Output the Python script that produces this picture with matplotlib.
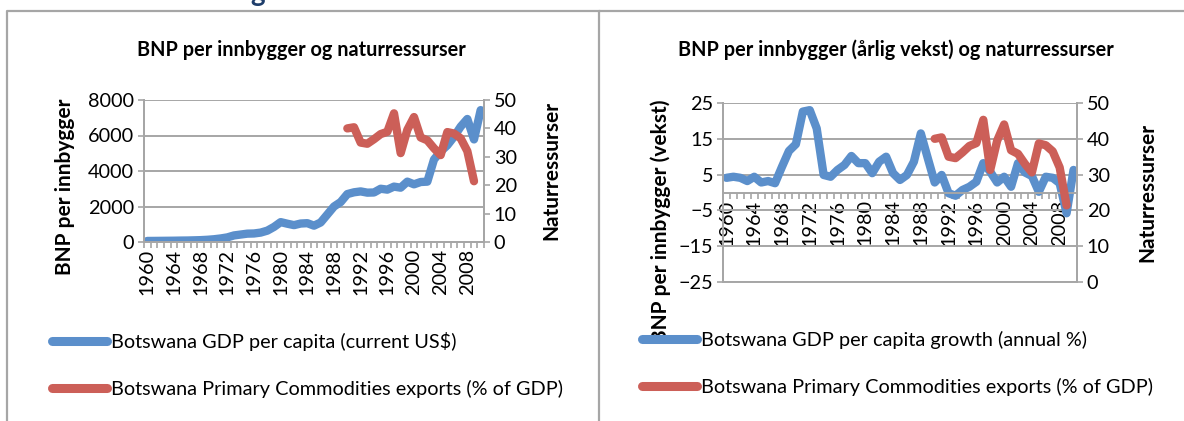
import numpy as np
import matplotlib
matplotlib.use('Agg')
import matplotlib.pyplot as plt
from matplotlib.lines import Line2D

plt.rcParams['font.family'] = ['Lato', 'DejaVu Sans']

# data
years = np.arange(1960, 2011)
gdp_pc = np.array([59, 61, 65, 69, 73, 80, 84, 94, 105, 125,
                   155, 200, 260, 370, 420, 470, 480, 530, 640, 850,
                   1120, 1030, 950, 1040, 1060, 920, 1100, 1550, 2000, 2250,
                   2700, 2800, 2850, 2780, 2790, 3000, 2950, 3120, 3060, 3400,
                   3250, 3380, 3400, 4650, 5100, 5450, 5930, 6500, 6930, 5780,
                   7430])
gdp_growth = np.array([4.1, 4.4, 4.1, 3.2, 4.4, 2.8, 3.2, 2.6, 7.2, 11.6,
                       13.5, 22.6, 23.0, 17.9, 4.9, 4.4, 6.3, 7.7, 10.2, 8.2,
                       8.2, 5.4, 8.6, 10.0, 5.4, 3.5, 4.9, 8.6, 16.5, 9.6,
                       2.8, 4.9, -0.2, -0.9, 0.7, 1.6, 3.0, 8.2, 5.8, 2.8,
                       4.4, 1.6, 8.2, 5.6, 4.6, 0.2, 4.4, 4.1, 2.6, -5.8,
                       6.3])
exp_years = np.arange(1990, 2010)
commod_exp = np.array([40.0, 40.4, 35.0, 34.6, 36.2, 38.0, 38.8, 45.3, 31.3, 39.5,
                       44.0, 36.8, 35.8, 33.0, 30.6, 38.7, 38.2, 36.5, 32.0, 21.4])

tick_years = np.arange(1960, 2009, 4)
tick_labels = [str(y) for y in tick_years]

lab_gdp = 'Botswana GDP per capita (current US$)'
lab_growth = 'Botswana GDP per capita growth (annual %)'
lab_exp = 'Botswana Primary Commodities exports (% of GDP)'

blue = '#5B8FCB'
red = '#CC5F58'
grey = '#A6A6A6'
W, H = 1184, 421
fs = 14.3

fig = plt.figure(figsize=(W/100, H/100), dpi=100)

def px(x0, y0, x1, y1):
    #pixel box (top-left origin) -> figure fractions
    return [x0/W, 1-y1/H, (x1-x0)/W, (y1-y0)/H]

def style(ax, ax2, ymin, ymax, ystep, rmax):
    ax.set_xlim(-0.5, len(years)-0.5)
    ax.set_xticks(tick_years-1960)
    ax.set_xticklabels(tick_labels, rotation=90, fontsize=fs)
    ax.set_xticks(np.arange(-0.5, len(years), 1), minor=True)
    ax.tick_params(axis='x', which='major', length=0, pad=5)
    ax.tick_params(axis='x', which='minor', length=4, width=1.2, color=grey, direction='out')
    ax.set_ylim(ymin, ymax)
    ax.set_yticks(np.arange(ymin, ymax+1, ystep))
    ax.tick_params(axis='y', length=4, width=1.2, color=grey, labelsize=fs, pad=3)
    ax.grid(axis='y', color=grey, lw=1.4)
    ax.set_axisbelow(True)
    ax2.set_ylim(0, rmax)
    ax2.set_yticks(np.arange(0, rmax+1, 10))
    ax2.tick_params(axis='y', length=4, width=1.2, color=grey, labelsize=fs, pad=3)
    for a in (ax, ax2):
        a.spines['top'].set_visible(False)
        for s in ('left', 'right', 'bottom'):
            a.spines[s].set_color(grey)
            a.spines[s].set_linewidth(1.4)
    ax.patch.set_visible(False)

# ---- left chart ----
ax1 = fig.add_axes(px(144, 100, 484, 242))
ax1b = ax1.twinx()
style(ax1, ax1b, 0, 8000, 2000, 50)
ax1.plot(years-1960, gdp_pc, color=blue, lw=6, solid_capstyle='round', solid_joinstyle='round')
ax1b.plot(exp_years-1960, commod_exp, color=red, lw=6, solid_capstyle='round', solid_joinstyle='round')

fig.text(301/W, 1-50/H, 'BNP per innbygger og naturressurser', ha='center', va='center',
         fontsize=14.3, fontweight='bold')
fig.text(65/W, 1-187/H, 'BNP per innbygger', rotation=90, ha='center', va='center',
         fontsize=15, fontweight='bold')
fig.text(551/W, 1-170/H, 'Naturressurser', rotation=90, ha='center', va='center',
         fontsize=15, fontweight='bold')

# ---- right chart ----
ax2 = fig.add_axes(px(723, 103, 1077, 282))
ax2b = ax2.twinx()
ax2.spines['bottom'].set_position(('data', 0))
style(ax2, ax2b, -25, 25, 10, 50)
ax2.plot(years-1960, gdp_growth, color=blue, lw=6, solid_capstyle='round', solid_joinstyle='round')
ax2b.plot(exp_years-1960, commod_exp, color=red, lw=6, solid_capstyle='round', solid_joinstyle='round')

fig.text(896/W, 1-50/H, 'BNP per innbygger (årlig vekst) og naturressurser', ha='center', va='center',
         fontsize=14.3, fontweight='bold')
fig.text(661/W, 1-221/H, 'BNP per innbygger (vekst)', rotation=90, ha='center', va='center',
         fontsize=15, fontweight='bold')
fig.text(1147/W, 1-192/H, 'Naturressurser', rotation=90, ha='center', va='center',
         fontsize=15, fontweight='bold')

# ---- legends ----
h1 = [Line2D([], [], color=blue, lw=6.5, solid_capstyle='round'),
      Line2D([], [], color=red, lw=6.5, solid_capstyle='round')]
fig.legend(h1, [lab_gdp, lab_exp], loc='upper left', bbox_to_anchor=(52/W, 1-332/H),
           frameon=False, fontsize=fs, handlelength=2.75, handletextpad=0.2,
           labelspacing=1.45, borderpad=0, borderaxespad=0)
fig.legend(h1, [lab_growth, lab_exp], loc='upper left', bbox_to_anchor=(642/W, 1-331/H),
           frameon=False, fontsize=fs, handlelength=2.75, handletextpad=0.2,
           labelspacing=1.45, borderpad=0, borderaxespad=0)

# ---- chart frames ----
fig.add_artist(Line2D([7/W, 7/W, 599/W], [0, 1-11/H, 1-11/H], color=grey, lw=1.6))
fig.add_artist(Line2D([599/W, 599/W, 1], [0, 1-11/H, 1-11/H], color=grey, lw=1.6))

# cut-off heading above the charts
fig.text(250/W, 1-1/H, 'g', ha='left', va='baseline', fontsize=20, fontweight='bold', color='#1F3E6B')

plt.savefig('out.png', dpi=100)
